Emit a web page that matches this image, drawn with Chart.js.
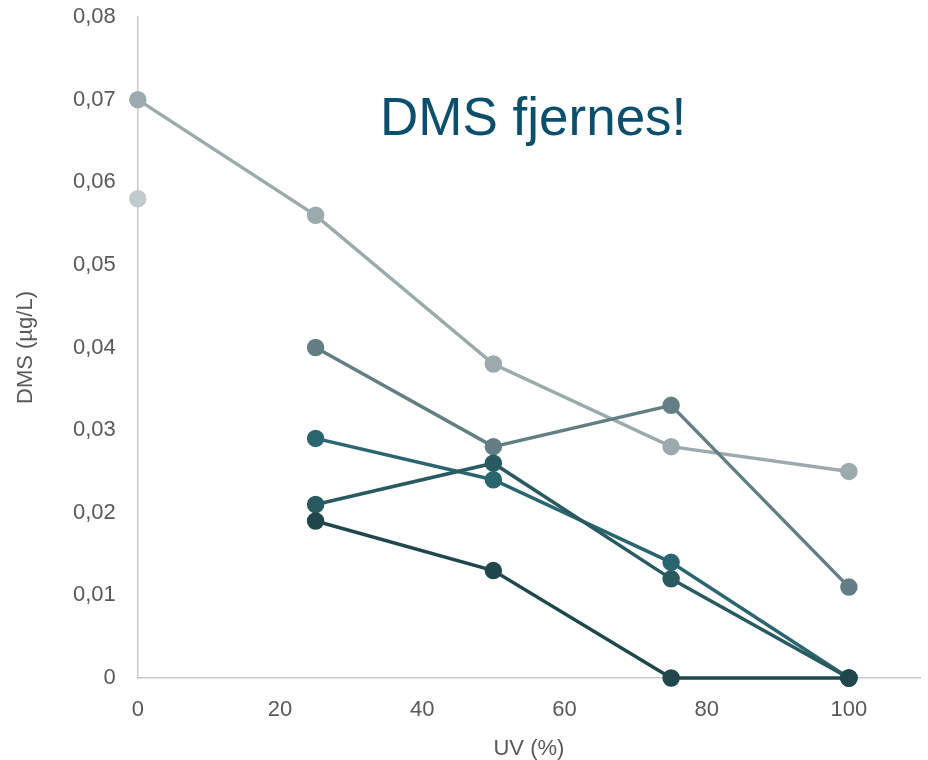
<!DOCTYPE html>
<html>
<head>
<meta charset="utf-8">
<script src="https://cdn.jsdelivr.net/npm/chart.js@4"></script>
<style>
  html, body { margin: 0; padding: 0; background: #fff; }
  #wrap { width: 928px; height: 760px; }
</style>
</head>
<body>
<div id="wrap"><canvas id="dmsChart" width="928" height="760"></canvas></div>
<script>
// UV level (%) on x, DMS (µg/L) on y
var uvLevels = [0, 25, 50, 75, 100];
var seriesA = [0.058, null, null, null, null];
var seriesB = [0.070, 0.056, 0.038, 0.028, 0.025];
var seriesC = [null, 0.040, 0.028, 0.033, 0.011];
var seriesD = [null, 0.029, 0.024, 0.014, 0];
var seriesE = [null, 0.021, 0.026, 0.012, 0];
var seriesF = [null, 0.019, 0.013, 0, 0];
var yTicks = [0, 0.01, 0.02, 0.03, 0.04, 0.05, 0.06, 0.07, 0.08];
var noteText = "DMS fjernes!";

var colors = ["#c1cacc", "#9baaac", "#647f84", "#2b6670", "#285a60", "#1f474c"];

function toPoints(vals) {
  var pts = [];
  for (var i in vals) {
    if (vals[i] !== null) pts.push({ x: uvLevels[i], y: vals[i] });
  }
  return pts;
}

var allSeries = [seriesA, seriesB, seriesC, seriesD, seriesE, seriesF];
var datasets = [];
for (var s = 0; s < allSeries.length; s++) {
  datasets.push({
    label: "serie " + (s + 1),
    data: toPoints(allSeries[s]),
    borderColor: colors[s],
    backgroundColor: colors[s],
    pointBackgroundColor: colors[s],
    pointBorderColor: colors[s],
    borderWidth: 3.5,
    pointRadius: 7,
    pointHoverRadius: 7,
    tension: 0,
    clip: false,
    order: allSeries.length - s
  });
}

// the big note inside the plot
var notePlugin = {
  id: "note",
  afterDatasetsDraw: function (chart) {
    var ctx = chart.ctx;
    ctx.save();
    ctx.font = "53px 'Liberation Sans', Arial, sans-serif";
    ctx.fillStyle = "#0b4f6c";
    ctx.textAlign = "center";
    ctx.textBaseline = "middle";
    ctx.fillText(noteText, chart.scales.x.getPixelForValue(55.6), chart.scales.y.getPixelForValue(0.0675));
    ctx.restore();
  }
};

function commaFmt(v) {
  if (Math.abs(v) < 1e-9) return "0";
  return v.toFixed(2).replace(".", ",");
}

var tickFont = { family: "'Liberation Sans', Arial, sans-serif", size: 22, lineHeight: 1 };

new Chart(document.getElementById("dmsChart"), {
  type: "line",
  data: { datasets: datasets },
  plugins: [notePlugin],
  options: {
    responsive: false,
    animation: false,
    layout: { autoPadding: false, padding: { top: 17, right: 8, left: 11, bottom: 0 } },
    plugins: { legend: { display: false }, tooltip: { enabled: false } },
    scales: {
      x: {
        type: "linear",
        min: 0,
        max: 110,
        grid: { display: false },
        border: { display: true, color: "#c9c9c9", width: 1.5 },
        ticks: { stepSize: 20, includeBounds: false, color: "#595959", font: tickFont, padding: 13 },
        title: { display: true, text: "UV (%)", color: "#595959", font: tickFont, padding: { top: 4, bottom: 0 } }
      },
      y: {
        min: 0,
        max: 0.08,
        grid: { display: false },
        border: { display: true, color: "#c9c9c9", width: 1.5 },
        afterBuildTicks: function (axis) {
          axis.ticks = yTicks.map(function (v) { return { value: v }; });
        },
        afterFit: function (axis) {
          axis.paddingTop = 0;
        },
        ticks: { color: "#595959", font: tickFont, padding: 14, callback: function (v) { return commaFmt(v); } },
        title: { display: true, text: "DMS (µg/L)", color: "#595959", font: tickFont, padding: { top: 4, bottom: 22 } }
      }
    }
  }
});
</script>
</body>
</html>
